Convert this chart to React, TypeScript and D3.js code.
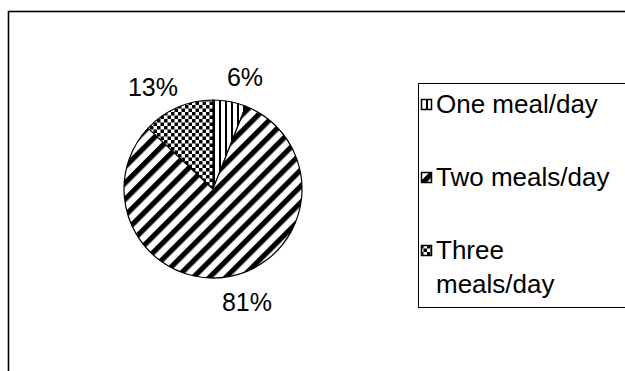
import React from "react";
import * as d3 from "d3";

const categories = ["One meal/day", "Two meals/day", "Three meals/day"];
const values = [6, 81, 13];
const valueLabels = ["6%", "81%", "13%"];
const legendLines = [["One meal/day"], ["Two meals/day"], ["Three", "meals/day"]];
const patternIds = ["pVert", "pDiag", "pCheck"];

export default function App() {
  const W = 625, H = 371;
  const cx = 213, cy = 189, r = 89;
  const pie = d3.pie<number>().sort(null).value((d) => d)(values);
  const arc = d3.arc<d3.PieArcDatum<number>>().innerRadius(0).outerRadius(r);
  const labelPos: [number, number][] = [
    [245, 86],
    [247, 311],
    [153, 96],
  ];
  const legendY = d3.scalePoint<string>().domain(categories).range([104, 250]);
  return (
    <svg width={W} height={H} style={{ position: "absolute", left: 0, top: 0, background: "#fff" }}
      fontFamily="'Liberation Sans', Arial, sans-serif">
      <defs>
        <pattern id="pVert" patternUnits="userSpaceOnUse" width={6} height={6}>
          <rect width={6} height={6} fill="#fff" />
          <rect x={0} width={2} height={6} fill="#000" />
        </pattern>
        <pattern id="pDiag" patternUnits="userSpaceOnUse" width={11.5} height={11.5} patternTransform="rotate(45)">
          <rect width={11.5} height={11.5} fill="#fff" />
          <rect x={0} width={5.2} height={11.5} fill="#000" />
        </pattern>
        <pattern id="pCheck" patternUnits="userSpaceOnUse" width={7} height={7}>
          <rect width={7} height={7} fill="#fff" />
          <rect x={0} y={0} width={3.5} height={3.5} fill="#000" />
          <rect x={3.5} y={3.5} width={3.5} height={3.5} fill="#000" />
        </pattern>
      </defs>
      <rect x={8.5} y={11.5} width={W + 20} height={H + 20} fill="none" stroke="#000" strokeWidth={1.6} />
      <g transform={`translate(${cx},${cy})`}>
        {pie.map((p, i) => (
          <path key={i} d={arc(p) || ""} fill={`url(#${patternIds[i]})`} stroke="#000" strokeWidth={1.2} />
        ))}
      </g>
      {pie.map((p, i) => (
        <text key={i} x={labelPos[i][0]} y={labelPos[i][1]} fontSize={25} textAnchor="middle" fill="#000">
          {valueLabels[i]}
        </text>
      ))}
      <rect x={418.5} y={83.5} width={260} height={224} fill="#fff" stroke="#000" strokeWidth={1} />
      {categories.map((c, i) => {
        const y = legendY(c) as number;
        return (
          <g key={c}>
            <rect x={421.5} y={y - 4.5} width={10} height={10} fill={`url(#${patternIds[i]})`} stroke="#000" strokeWidth={1.5} />
            {legendLines[i].map((t, j) => (
              <text key={j} x={436} y={y + 9 + j * 34} fontSize={26} fill="#000">{t}</text>
            ))}
          </g>
        );
      })}
    </svg>
  );
}
